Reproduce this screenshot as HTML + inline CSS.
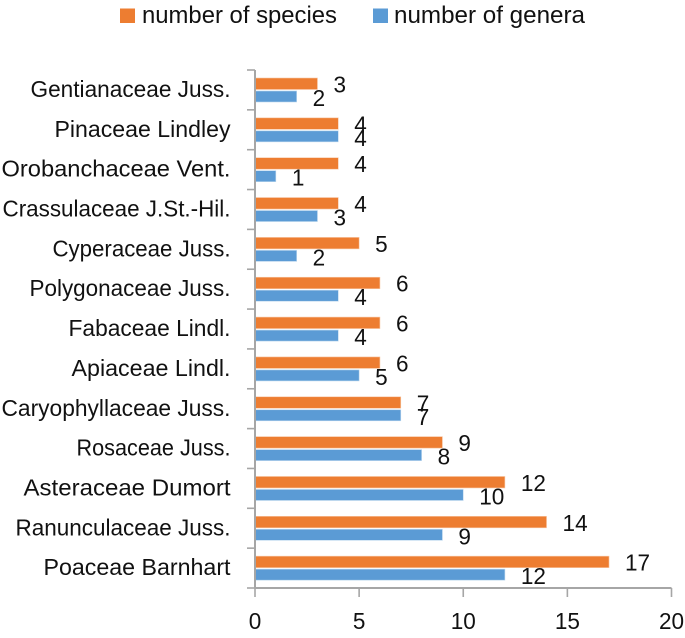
<!DOCTYPE html>
<html>
<head>
<meta charset="utf-8">
<title>Families by number of species and genera</title>
<style>
html,body{margin:0;padding:0;background:#fff;width:685px;height:638px;overflow:hidden}
svg{display:block}
text{font-family:"Liberation Sans",sans-serif;fill:#111}
</style>
</head>
<body>
<svg id="chart" xmlns="http://www.w3.org/2000/svg" width="685" height="638" viewBox="0 0 685 638">
  <g>
    <g>
      <rect x="120" y="8.5" width="15" height="14.5" fill="#ed7d31"/>
      <text x="142" y="23" font-size="24" textLength="195" lengthAdjust="spacingAndGlyphs">number of species</text>
    </g>
    <g>
      <rect x="373" y="8.5" width="15" height="14.5" fill="#5b9bd5"/>
      <text x="394" y="23" font-size="24" textLength="191" lengthAdjust="spacingAndGlyphs">number of genera</text>
    </g>
  </g>
  <g id="plot"></g>
</svg>
<script>
const categories = ["Gentianaceae Juss.","Pinaceae Lindley","Orobanchaceae Vent.","Crassulaceae J.St.-Hil.","Cyperaceae Juss.","Polygonaceae Juss.","Fabaceae Lindl.","Apiaceae Lindl.","Caryophyllaceae Juss.","Rosaceae Juss.","Asteraceae Dumort","Ranunculaceae Juss.","Poaceae Barnhart"];
const speciesValues = [3,4,4,4,5,6,6,6,7,9,12,14,17];
const generaValues = [2,4,1,3,2,4,4,5,7,8,10,9,12];
const xTickLabels = [0,5,10,15,20];

const NS = 'http://www.w3.org/2000/svg';
const plot = document.getElementById('plot');
const AXIS_COLOR = '#a6a6a6';
const x0 = 255, x1 = 671.5, yTop = 70, yBottom = 588;
const xMax = xTickLabels[xTickLabels.length - 1];
const xScale = v => x0 + (v / xMax) * (x1 - x0);
const bandHeight = (yBottom - yTop) / categories.length;
const bandTop = i => yTop + i * bandHeight;

// Rendered label widths: the substitute font's proportions differ from the original's.
const categoryLabelFit = {
  "Gentianaceae Juss.": 200, "Pinaceae Lindley": 176, "Orobanchaceae Vent.": 229,
  "Crassulaceae J.St.-Hil.": 228, "Cyperaceae Juss.": 178, "Polygonaceae Juss.": 201,
  "Fabaceae Lindl.": 162, "Apiaceae Lindl.": 159, "Caryophyllaceae Juss.": 229,
  "Rosaceae Juss.": 154, "Asteraceae Dumort": 207, "Ranunculaceae Juss.": 215,
  "Poaceae Barnhart": 187
};

function make(tag, attrs, parent) {
  const el = document.createElementNS(NS, tag);
  for (const k in attrs) el.setAttribute(k, attrs[k]);
  parent.appendChild(el);
  return el;
}

categories.forEach((name, i) => {
  const top = bandTop(i);

  const speciesBar = make('rect', {x: x0, y: top + 8, width: xScale(speciesValues[i]) - x0, height: 11.5, fill: '#ed7d31', stroke: '#f8c9a8', 'stroke-width': 0.6}, plot);
  
  

  const generaBar = make('rect', {x: x0, y: top + 21, width: xScale(generaValues[i]) - x0, height: 11, fill: '#5b9bd5', stroke: '#bcd7ee', 'stroke-width': 0.6}, plot);
  
  

  const catLabel = make('text', {x: 230.5, y: top + 27, 'font-size': 23.5, 'text-anchor': 'end', textLength: categoryLabelFit[name], lengthAdjust: 'spacingAndGlyphs'}, plot);
  catLabel.textContent = name;
  
  

  const speciesLabel = make('text', {transform: `translate(${xScale(speciesValues[i]) + 16} ${top + 22.5}) scale(.96 1)`, 'font-size': 23.5}, plot);
  speciesLabel.textContent = speciesValues[i];
  
  

  const generaLabel = make('text', {transform: `translate(${xScale(generaValues[i]) + 16} ${top + 36}) scale(.96 1)`, 'font-size': 23.5}, plot);
  generaLabel.textContent = generaValues[i];
  
  
});

const yAxis = make('line', {x1: x0, x2: x0, y1: yTop, y2: yBottom, stroke: AXIS_COLOR, 'stroke-width': 2}, plot);



const xAxis = make('line', {x1: x0, x2: x1, y1: yBottom, y2: yBottom, stroke: AXIS_COLOR, 'stroke-width': 2}, plot);



for (let i = 0; i <= categories.length; i++) {
  const tick = make('line', {x1: 247, x2: x0, y1: bandTop(i), y2: bandTop(i), stroke: AXIS_COLOR, 'stroke-width': 1.6}, plot);
  
  
}

xTickLabels.forEach(v => {
  const tick = make('line', {x1: xScale(v), x2: xScale(v), y1: yBottom, y2: yBottom + 9, stroke: AXIS_COLOR, 'stroke-width': 1.6}, plot);
  
  

  const label = make('text', {transform: `translate(${xScale(v)} 629) scale(.96 1)`, 'font-size': 23.5, 'text-anchor': 'middle'}, plot);
  label.textContent = v;
  
  
});
</script>
</body>
</html>
